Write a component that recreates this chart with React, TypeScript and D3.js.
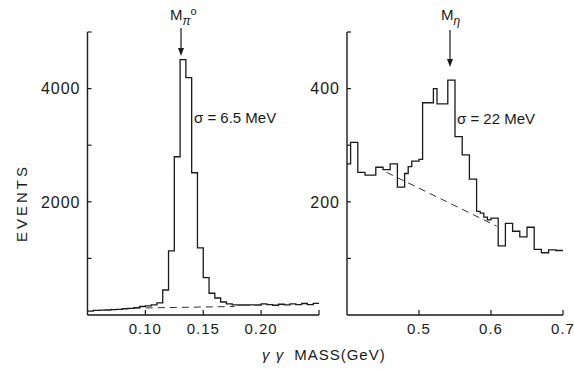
import React from "react";
import * as d3 from "d3";

// pi0 panel: 0.005 GeV bins from 0.05 to 0.25
const pi0Start = 0.05;
const pi0Width = 0.005;
const pi0Counts = [
  70, 80, 85, 88, 95, 100, 110, 118, 130, 150, 160, 180, 215, 442, 1133, 2796,
  4513, 4195, 2513, 1186, 660, 384, 300, 230, 195, 180, 177, 177, 180, 177, 195,
  185, 172, 190, 180, 195, 182, 203, 182, 207,
];
const pi0Background = [
  [0.09, 122],
  [0.177, 150],
];

// eta panel: 0.005 GeV bins from 0.40 to 0.70
const etaStart = 0.4;
const etaWidth = 0.005;
const etaCounts = [
  267, 305, 305, 252, 252, 247, 247, 247, 261, 261, 257, 257, 267, 267, 226,
  226, 250, 262, 272, 272, 275, 375, 375, 375, 400, 373, 373, 373, 415, 415,
  315, 315, 283, 283, 240, 240, 183, 180, 173, 168, 171, 171, 122, 122, 162,
  162, 148, 148, 138, 138, 155, 155, 116, 116, 110, 110, 115, 115, 114, 114,
];
const etaBackground = [
  [0.455, 252],
  [0.608, 157],
];

const pi0XTicks = [0.1, 0.15, 0.2, 0.25];
const pi0XLabels = ["0.10", "0.15", "0.20"];
const pi0YTicks = [1000, 2000, 3000, 4000, 5000];
const pi0YLabels = [2000, 4000];
const etaXTicks = [0.5, 0.6, 0.7];
const etaXLabels = ["0.5", "0.6", "0.7"];
const etaYTicks = [100, 200, 300, 400, 500];
const etaYLabels = [200, 400];

const FONT = "'Liberation Sans', Arial, sans-serif";
const INK = "#1a1a1a";
const BASE = 315;
const TOP = 32;

function histPath(
  start: number,
  width: number,
  counts: number[],
  x: d3.ScaleLinear<number, number>,
  y: d3.ScaleLinear<number, number>
) {
  const pts: [number, number][] = counts.map((c, i) => [start + i * width, c]);
  pts.push([start + counts.length * width, counts[counts.length - 1]]);
  return d3
    .line<[number, number]>()
    .x((d) => x(d[0]))
    .y((d) => y(d[1]))
    .curve(d3.curveStepAfter)(pts) as string;
}

interface PanelProps {
  x: d3.ScaleLinear<number, number>;
  y: d3.ScaleLinear<number, number>;
  start: number;
  width: number;
  counts: number[];
  bg: number[][];
  xTicks: number[];
  xLabels: string[];
  yTicks: number[];
  yLabels: number[];
}

const Panel: React.FC<PanelProps> = ({ x, y, start, width, counts, bg, xTicks, xLabels, yTicks, yLabels }) => {
  const [x0, x1] = x.range();
  const [y0, y1] = y.domain();
  return (
    <g>
      {/* axes */}
      <line x1={x0} x2={x0} y1={y(y0)} y2={y(y1)} stroke={INK} strokeWidth={1.4} />
      <line x1={x0} x2={x1} y1={y(y0)} y2={y(y0)} stroke={INK} strokeWidth={1.4} />
      {yTicks.map((t) => (
        <line key={t} x1={x0} x2={x0 + 4} y1={y(t)} y2={y(t)} stroke={INK} strokeWidth={1.2} />
      ))}
      {yLabels.map((t) => (
        <text key={t} x={x0 - 7} y={y(t)} dy="0.36em" textAnchor="end" fontSize={16} letterSpacing={1} fill={INK} fontFamily={FONT}>
          {t}
        </text>
      ))}
      {xTicks.map((t) => (
        <line key={t} x1={x(t)} x2={x(t)} y1={y(y0)} y2={y(y0) - 5} stroke={INK} strokeWidth={1.2} />
      ))}
      {xLabels.map((t) => (
        <text key={t} x={x(+t)} y={BASE + 19} textAnchor="middle" fontSize={15} letterSpacing={1} fill={INK} fontFamily={FONT}>
          {t}
        </text>
      ))}
      {/* background estimate */}
      <line
        x1={x(bg[0][0])}
        y1={y(bg[0][1])}
        x2={x(bg[1][0])}
        y2={y(bg[1][1])}
        stroke={INK}
        strokeWidth={0.9}
        strokeDasharray="7,5"
      />
      {/* histogram */}
      <path d={histPath(start, width, counts, x, y)} fill="none" stroke={INK} strokeWidth={1.3} />
    </g>
  );
};

const Arrow: React.FC<{ x: number; y1: number; y2: number }> = ({ x, y1, y2 }) => (
  <g>
    <line x1={x} x2={x} y1={y1} y2={y2 - 5} stroke={INK} strokeWidth={1.2} />
    <path d={`M${x - 3},${y2 - 8} L${x + 3},${y2 - 8} L${x},${y2} Z`} fill={INK} />
  </g>
);

export default function App() {
  const xPi = d3.scaleLinear().domain([0.05, 0.25]).range([87.5, 319]);
  const yPi = d3.scaleLinear().domain([0, 5000]).range([BASE, TOP]);
  const xEta = d3.scaleLinear().domain([0.4, 0.7]).range([347, 563]);
  const yEta = d3.scaleLinear().domain([0, 500]).range([BASE, TOP]);

  return (
    <svg
      width={574}
      height={369}
      style={{ position: "absolute", left: 0, top: 0, background: "#fff" }}
    >
      <rect width={574} height={369} fill="#fff" />
      <Panel
        x={xPi}
        y={yPi}
        start={pi0Start}
        width={pi0Width}
        counts={pi0Counts}
        bg={pi0Background}
        xTicks={pi0XTicks}
        xLabels={pi0XLabels}
        yTicks={pi0YTicks}
        yLabels={pi0YLabels}
      />
      <Panel
        x={xEta}
        y={yEta}
        start={etaStart}
        width={etaWidth}
        counts={etaCounts}
        bg={etaBackground}
        xTicks={etaXTicks}
        xLabels={etaXLabels}
        yTicks={etaYTicks}
        yLabels={etaYLabels}
      />

      {/* y title */}
      <text
        transform="translate(27,203) rotate(-90)"
        textAnchor="middle"
        fontSize={15}
        letterSpacing={3}
        fill={INK}
        fontFamily={FONT}
      >
        EVENTS
      </text>

      {/* x title */}
      <text x={262} y={360} fontSize={15} fill={INK} fontFamily={FONT} letterSpacing={1}>
        <tspan fontStyle="italic">γ γ</tspan>
        <tspan dx={10}>MASS(GeV)</tspan>
      </text>

      {/* pi0 annotations */}
      <text x={170} y={20} fontSize={15} fill={INK} fontFamily={FONT}>
        M
        <tspan fontSize={12} fontStyle="italic" dy={5}>π</tspan>
        <tspan fontSize={11} dy={-10}>o</tspan>
      </text>
      <Arrow x={181} y1={28} y2={56} />
      <text x={194} y={123} fontSize={15} fill={INK} fontFamily={FONT}>
        σ = 6.5 MeV
      </text>

      {/* eta annotations */}
      <text x={441} y={20} fontSize={15} fill={INK} fontFamily={FONT}>
        M
        <tspan fontSize={12} fontStyle="italic" dy={5}>η</tspan>
      </text>
      <Arrow x={450} y1={30} y2={67} />
      <text x={457} y={124} fontSize={15} fill={INK} fontFamily={FONT}>
        σ = 22 MeV
      </text>
    </svg>
  );
}
